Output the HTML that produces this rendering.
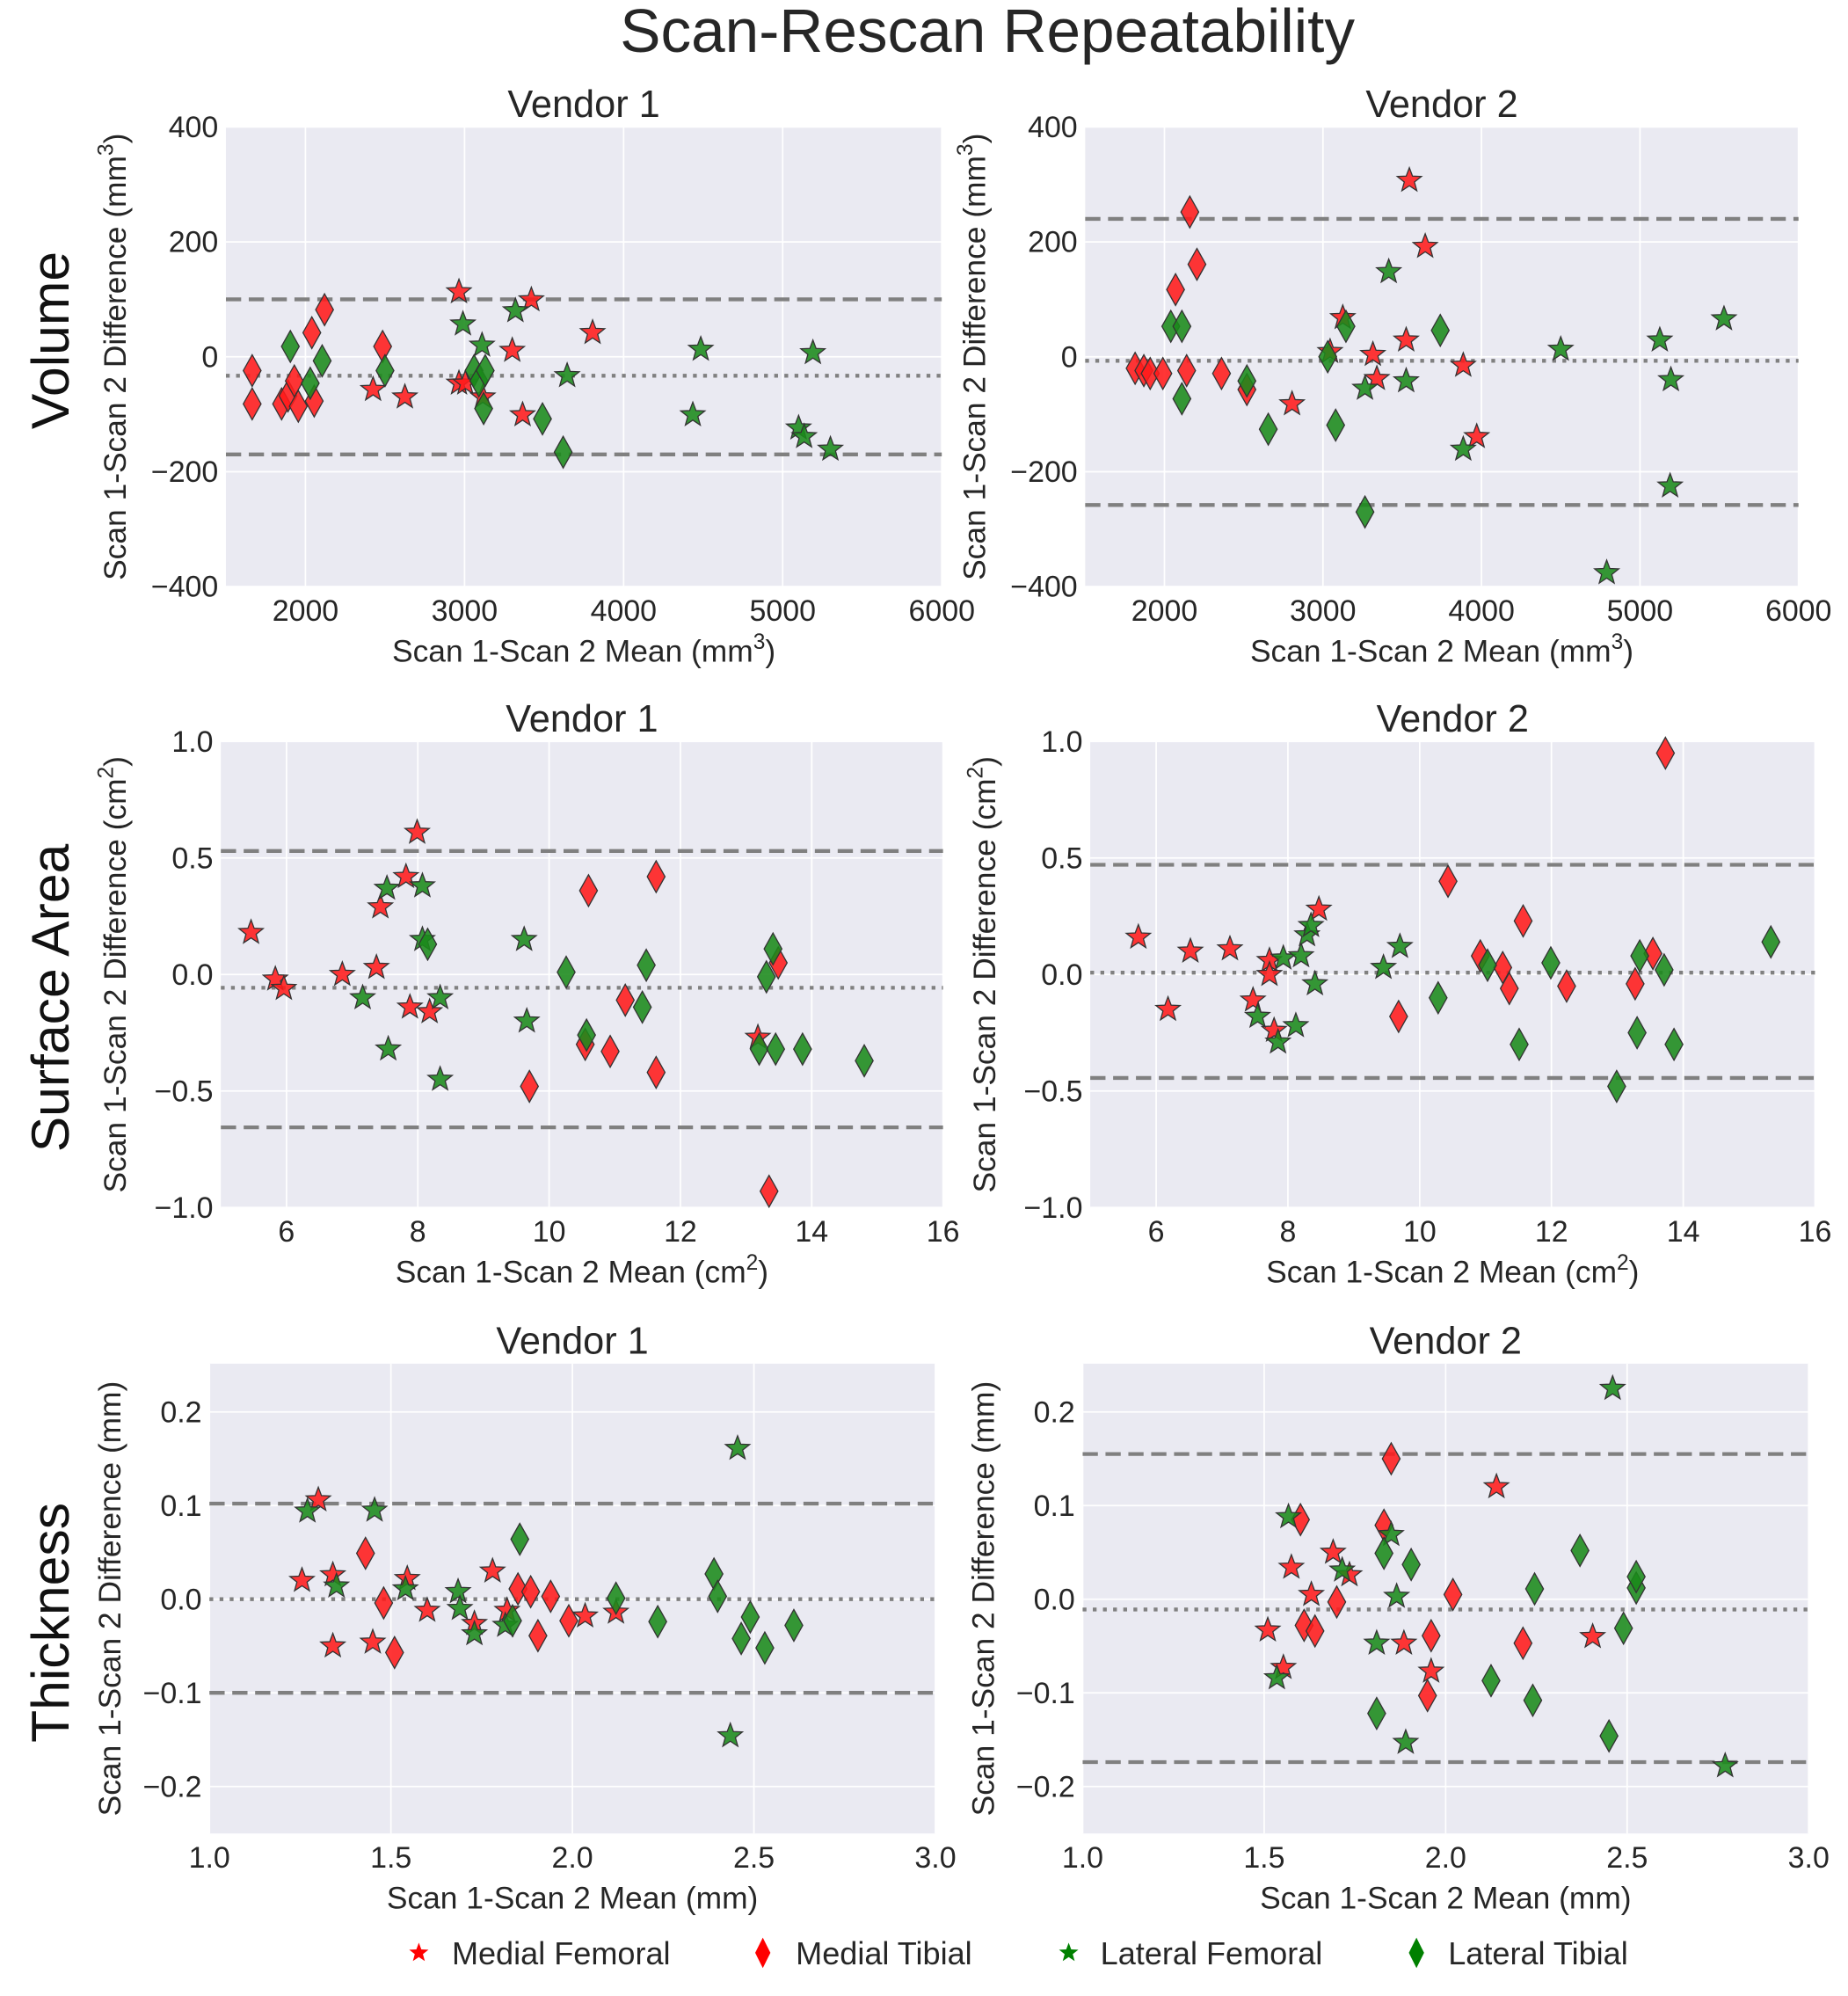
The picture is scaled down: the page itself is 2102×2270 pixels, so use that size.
<!DOCTYPE html>
<html><head><meta charset="utf-8"><style>
html,body{margin:0;padding:0;background:#fff;}
svg{display:block;font-family:"Liberation Sans",sans-serif;}
</style></head><body>
<svg id="fig" width="2102" height="2270" viewBox="0 0 1456 1572" preserveAspectRatio="none" xmlns="http://www.w3.org/2000/svg">
<text x="778" y="41" text-anchor="middle" font-size="48" fill="#262626">Scan-Rescan Repeatability</text>
<text transform="translate(54,268) rotate(-90)" text-anchor="middle" font-size="42" fill="#111">Volume</text>
<text transform="translate(54,786) rotate(-90)" text-anchor="middle" font-size="42" fill="#111">Surface Area</text>
<text transform="translate(54,1278) rotate(-90)" text-anchor="middle" font-size="42" fill="#111">Thickness</text>
<g id="panels"></g>
<g>
  <g id="legend"></g>
  <text x="356" y="1547" font-size="25" fill="#262626">Medial Femoral</text>
  <text x="627" y="1547" font-size="25" fill="#262626">Medial Tibial</text>
  <text x="867" y="1547" font-size="25" fill="#262626">Lateral Femoral</text>
  <text x="1141" y="1547" font-size="25" fill="#262626">Lateral Tibial</text>
</g>
</svg>
<script>
// ---- data (x = mean, y = difference) ----
const v1volMF = [[2425,-57],[2625,-70],[2965,113],[2965,-46],[3005,-46],[3115,-70],[3300,11],[3365,-101],[3420,99],[3805,42]];
const v1volMT = [[1665,-82],[1665,-24],[1850,-82],[1890,-68],[1930,-42],[1955,-86],[2040,42],[2055,-77],[2120,82],[2485,18]];
const v1volLF = [[2990,57],[3110,20],[3320,80],[3645,-33],[4435,-101],[4485,13],[5100,-124],[5135,-139],[5190,7],[5300,-161]];
const v1volLT = [[1905,18],[2030,-46],[2105,-7],[2500,-24],[3060,-24],[3090,-42],[3130,-24],[3120,-90],[3490,-108],[3620,-166]];
const v2volMF = [[2805,-82],[3045,9],[3125,68],[3315,4],[3340,-38],[3525,29],[3545,307],[3645,192],[3885,-15],[3970,-139]];
const v2volMT = [[1815,-20],[1870,-24],[1910,-29],[1990,-29],[2070,117],[2140,-24],[2160,252],[2205,161],[2360,-29],[2520,-57]];
const v2volLF = [[3265,-55],[3415,148],[3525,-42],[3885,-161],[4500,13],[4790,-376],[5125,29],[5190,-225],[5195,-40],[5530,66]];
const v2volLT = [[2040,53],[2110,53],[2110,-73],[2520,-42],[2655,-126],[3030,0],[3080,-119],[3145,53],[3265,-270],[3740,46]];
const v1saMF = [[5.46,0.18],[5.83,-0.02],[5.96,-0.06],[6.85,0.0],[7.37,0.03],[7.43,0.29],[7.82,0.42],[7.88,-0.14],[7.99,0.61],[8.18,-0.16],[13.18,-0.27]];
const v1saMT = [[9.7,-0.48],[10.55,-0.3],[10.6,0.36],[10.93,-0.33],[11.16,-0.11],[11.63,0.42],[11.63,-0.42],[13.35,-0.93],[13.49,0.05]];
const v1saLF = [[7.16,-0.1],[7.53,0.37],[7.55,-0.32],[8.07,0.15],[8.07,0.38],[8.34,-0.1],[8.34,-0.45],[9.62,0.15],[9.66,-0.2]];
const v1saLT = [[8.15,0.13],[10.26,0.01],[10.57,-0.26],[11.42,-0.14],[11.48,0.04],[13.2,-0.32],[13.31,-0.01],[13.41,0.11],[13.45,-0.32],[13.86,-0.32],[14.8,-0.37]];
const v2saMF = [[5.73,0.16],[6.18,-0.15],[6.52,0.1],[7.12,0.11],[7.47,-0.11],[7.72,0.06],[7.72,0.0],[7.79,-0.24],[8.47,0.28]];
const v2saMT = [[9.68,-0.18],[10.43,0.4],[10.92,0.08],[11.26,0.03],[11.36,-0.06],[11.57,0.23],[12.23,-0.05],[13.27,-0.04],[13.54,0.09],[13.73,0.95]];
const v2saLF = [[7.54,-0.18],[7.85,-0.29],[7.93,0.07],[8.12,-0.22],[8.2,0.08],[8.29,0.17],[8.35,0.21],[8.41,-0.04],[9.45,0.03],[9.7,0.12]];
const v2saLT = [[10.28,-0.1],[11.03,0.04],[11.51,-0.3],[11.99,0.05],[12.99,-0.48],[13.3,-0.25],[13.34,0.08],[13.71,0.02],[13.86,-0.3],[15.33,0.14]];
const v1thMF = [[1.255,0.02],[1.30,0.106],[1.34,-0.05],[1.34,0.026],[1.45,-0.046],[1.545,0.022],[1.60,-0.012],[1.73,-0.026],[1.78,0.03],[1.82,-0.012],[2.035,-0.018],[2.12,-0.014]];
const v1thMT = [[1.43,0.049],[1.48,-0.004],[1.51,-0.057],[1.85,0.011],[1.885,0.008],[1.905,-0.039],[1.94,0.003],[1.99,-0.023]];
const v1thLF = [[1.27,0.094],[1.35,0.014],[1.455,0.095],[1.54,0.011],[1.685,0.008],[1.69,-0.01],[1.73,-0.037],[1.815,-0.028],[2.455,0.161],[2.435,-0.146]];
const v1thLT = [[1.835,-0.023],[1.855,0.064],[2.12,0.001],[2.235,-0.024],[2.39,0.027],[2.40,0.003],[2.465,-0.042],[2.49,-0.019],[2.53,-0.052],[2.61,-0.028]];
const v2thMF = [[1.51,-0.033],[1.553,-0.073],[1.575,0.034],[1.63,0.005],[1.69,0.05],[1.735,0.026],[1.885,-0.047],[1.96,-0.077],[2.14,0.12],[2.405,-0.04]];
const v2thMT = [[1.60,0.085],[1.61,-0.028],[1.64,-0.034],[1.70,-0.003],[1.83,0.079],[1.85,0.15],[1.95,-0.103],[1.96,-0.039],[2.02,0.005],[2.213,-0.047]];
const v2thLF = [[1.535,-0.084],[1.567,0.088],[1.715,0.031],[1.85,0.069],[1.865,0.003],[1.81,-0.047],[1.89,-0.153],[2.46,0.225],[2.77,-0.178]];
const v2thLT = [[1.81,-0.122],[1.83,0.049],[1.905,0.037],[2.125,-0.087],[2.24,-0.108],[2.245,0.011],[2.37,0.052],[2.45,-0.146],[2.49,-0.031],[2.525,0.012],[2.525,0.024]];
// limits of agreement [upper, mean, lower]
const v1volLines = [100,-33,-170];
const v2volLines = [240,-7,-258];
const v1saLines = [0.53,-0.057,-0.656];
const v2saLines = [0.471,0.008,-0.444];
const v1thLines = [0.102,0.0,-0.1];
const v2thLines = [0.155,-0.011,-0.174];
// ticks
const volXTicks = [2000,3000,4000,5000,6000];
const volYTicks = [400,200,0,-200,-400];
const saXTicks = [6,8,10,12,14,16];
const saYTicks = [1.0,0.5,0.0,-0.5,-1.0];
const thXTicks = [1.0,1.5,2.0,2.5,3.0];
const thYTicks = [0.2,0.1,0.0,-0.1,-0.2];

const NS = "http://www.w3.org/2000/svg";
function mk(tag, attrs, parent){ const e=document.createElementNS(NS,tag); for(const k in attrs) e.setAttribute(k,attrs[k]); if(parent) parent.appendChild(e); return e; }
function starPath(cx,cy,R){ let d=""; const r=R*0.42; for(let i=0;i<10;i++){ const a=-Math.PI/2+i*Math.PI/5; const rr=i%2?r:R; d+=(i?"L":"M")+(cx+rr*Math.cos(a)).toFixed(2)+","+(cy+rr*Math.sin(a)).toFixed(2);} return d+"Z"; }
function diaPath(cx,cy,w,h){ return `M${cx},${cy-h}L${cx+w},${cy}L${cx},${cy+h}L${cx-w},${cy}Z`; }
function fmt(v,dec){ const s=Math.abs(v).toFixed(dec); return (v<0?"\u2212":"")+s; }

const RED="#ff1a1a", GREEN="#1a8a1a";
const panels = [
 {name:"volume-vendor-1",L:178,R:742,T:100,B:462,x0:1500,x1:6000,y0:-400,y1:400,xt:volXTicks,yt:volYTicks,xd:0,yd:0,lines:v1volLines,s:[v1volMF,v1volMT,v1volLF,v1volLT],title:"Vendor 1",unit:"mm",sup:"3",ylx:99},
 {name:"volume-vendor-2",L:855,R:1417,T:100,B:462,x0:1500,x1:6000,y0:-400,y1:400,xt:volXTicks,yt:volYTicks,xd:0,yd:0,lines:v2volLines,s:[v2volMF,v2volMT,v2volLF,v2volLT],title:"Vendor 2",unit:"mm",sup:"3",ylx:776},
 {name:"surface-vendor-1",L:174,R:743,T:584,B:951,x0:5,x1:16,y0:-1,y1:1,xt:saXTicks,yt:saYTicks,xd:0,yd:1,lines:v1saLines,s:[v1saMF,v1saMT,v1saLF,v1saLT],title:"Vendor 1",unit:"cm",sup:"2",ylx:99},
 {name:"surface-vendor-2",L:859,R:1430,T:584,B:951,x0:5,x1:16,y0:-1,y1:1,xt:saXTicks,yt:saYTicks,xd:0,yd:1,lines:v2saLines,s:[v2saMF,v2saMT,v2saLF,v2saLT],title:"Vendor 2",unit:"cm",sup:"2",ylx:784},
 {name:"thickness-vendor-1",L:165,R:737,T:1074,B:1444,x0:1,x1:3,y0:-0.2502,y1:0.2515,xt:thXTicks,yt:thYTicks,xd:1,yd:1,lines:v1thLines,s:[v1thMF,v1thMT,v1thLF,v1thLT],title:"Vendor 1",unit:"mm",sup:"",ylx:95},
 {name:"thickness-vendor-2",L:853,R:1425,T:1074,B:1444,x0:1,x1:3,y0:-0.2502,y1:0.2515,xt:thXTicks,yt:thYTicks,xd:1,yd:1,lines:v2thLines,s:[v2thMF,v2thMT,v2thLF,v2thLT],title:"Vendor 2",unit:"mm",sup:"",ylx:783}
];
const root=document.getElementById("panels");
panels.forEach(p=>{
  const g=mk("g",{},root);
  
  
  const X=v=>p.L+(v-p.x0)/(p.x1-p.x0)*(p.R-p.L);
  const Y=v=>p.B-(v-p.y0)/(p.y1-p.y0)*(p.B-p.T);
  const bg=mk("rect",{x:p.L,y:p.T,width:p.R-p.L,height:p.B-p.T,fill:"#eaeaf2"},g);
  
  
  p.xt.forEach(t=>{
    const x=X(t);
    mk("line",{x1:x,x2:x,y1:p.T,y2:p.B,stroke:"#fff","stroke-width":1.2},g);
    const tx=mk("text",{x:x,y:p.B+27,"text-anchor":"middle","font-size":23.5,fill:"#262626"},g);
    
    
    tx.textContent=p.xd?t.toFixed(p.xd):String(t);
  });
  p.yt.forEach(t=>{
    const y=Y(t);
    mk("line",{x1:p.L,x2:p.R,y1:y,y2:y,stroke:"#fff","stroke-width":1.2},g);
    const ty=mk("text",{x:p.L-6,y:y+8,"text-anchor":"end","font-size":23.5,fill:"#262626"},g);
    
    
    ty.textContent=fmt(t,p.yd);
  });
  p.lines.forEach((v,i)=>{
    const ln=mk("line",{x1:p.L,x2:p.R,y1:Y(v),y2:Y(v),stroke:"#808080","stroke-width":3,"stroke-dasharray":i===1?"3,5":"12,6"},g);
    
    
  });
  const names=["medial-femoral","medial-tibial","lateral-femoral","lateral-tibial"];
  p.s.forEach((arr,si)=>{
    const col=si<2?RED:GREEN;
    arr.forEach(pt=>{
      const cx=X(pt[0]), cy=Y(pt[1]);
      const d=si%2===0?starPath(cx,cy,10):diaPath(cx,cy,7,12.5);
      const m=mk("path",{d:d,fill:col,"fill-opacity":0.88,stroke:"#333","stroke-width":0.9},g);
      
      
    });
  });
  const tt=mk("text",{x:(p.L+p.R)/2,y:p.T-8,"text-anchor":"middle","font-size":30,fill:"#262626"},g);
  
  
  tt.textContent=p.title;
  const xl=mk("text",{x:(p.L+p.R)/2,y:p.B+59,"text-anchor":"middle","font-size":24.5,fill:"#262626"},g);
  
  
  xl.innerHTML="Scan 1-Scan 2 Mean ("+p.unit+(p.sup?'<tspan dy="-10" font-size="17">'+p.sup+'</tspan><tspan dy="10">)</tspan>':")");
  const yl=mk("text",{transform:`translate(${p.ylx},${(p.T+p.B)/2}) rotate(-90)`,"text-anchor":"middle","font-size":24.5,fill:"#262626"},g);
  
  
  yl.innerHTML="Scan 1-Scan 2 Difference ("+p.unit+(p.sup?'<tspan dy="-10" font-size="17">'+p.sup+'</tspan><tspan dy="10">)</tspan>':")");
});
const lg=document.getElementById("legend");
const l1=mk("path",{d:starPath(330,1538,8),fill:"#ff0000"},lg);


const l2=mk("path",{d:diaPath(601,1538,6,12),fill:"#ff0000"},lg);


const l3=mk("path",{d:starPath(842,1538,8),fill:"#008000"},lg);


const l4=mk("path",{d:diaPath(1116,1538,6,12),fill:"#008000"},lg);


</script>
</body></html>
